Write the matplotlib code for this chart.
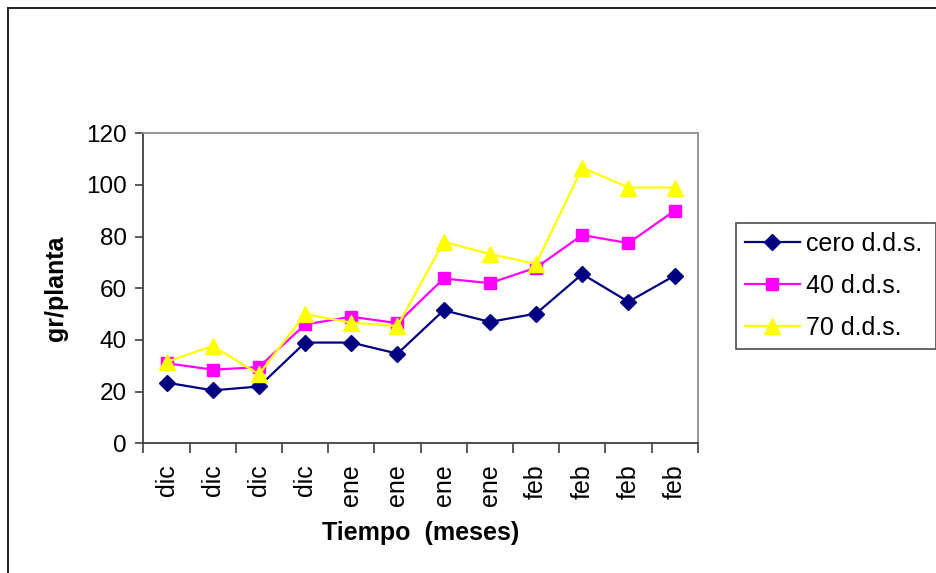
import numpy as np
import matplotlib.pyplot as plt
from matplotlib.lines import Line2D

plt.rcParams['font.family'] = ['Liberation Sans', 'DejaVu Sans']

meses = ['dic', 'dic', 'dic', 'dic', 'ene', 'ene', 'ene', 'ene',
         'feb', 'feb', 'feb', 'feb']
cero_dds = [23.5, 20.5, 22, 39, 39, 34.7, 51.5, 47, 50.2, 65.5, 54.8, 64.9]
dds_40 = [31, 28.5, 29.5, 46, 49, 46.5, 63.8, 62, 68, 80.6, 77.5, 90]
dds_70 = [31.5, 37.7, 26.7, 50, 46.7, 45.4, 78, 73.3, 69.4, 106.7, 99, 99]

fig = plt.figure(figsize=(9.36, 5.73), dpi=100)
ax = fig.add_axes([0.1533, 0.2263, 0.5921, 0.5411])

x = np.arange(len(meses))
ax.plot(x, cero_dds, color='#000080', lw=1.6, marker='D', ms=8,
        label='cero d.d.s.')
ax.plot(x, dds_40, color='#FF00FF', lw=1.6, marker='s', ms=9,
        label='40 d.d.s.')
ax.plot(x, dds_70, color='#FFFF00', lw=1.6, marker='^', ms=11,
        label='70 d.d.s.')

ax.set_xlim(-0.5, 11.5)
ax.set_ylim(0, 120)
ax.set_yticks(range(0, 121, 20))
ax.set_xticks(np.arange(-0.5, 12, 1))
ax.set_xticklabels([])
ax.set_xticks(x, minor=True)
ax.set_xticklabels(meses, minor=True, rotation=90, fontsize=18)
ax.tick_params(axis='x', which='minor', length=0, pad=15)
ax.tick_params(axis='x', which='major', length=7, width=1.2,
               color='#404040', direction='out')
ax.tick_params(axis='y', length=6, width=1.2, color='#404040',
               labelsize=17.5, pad=6)

for s in ['left', 'bottom']:
    ax.spines[s].set_color('#404040')
    ax.spines[s].set_linewidth(1.3)
for s in ['top', 'right']:
    ax.spines[s].set_color('#909090')
    ax.spines[s].set_linewidth(1.3)

ax.set_ylabel('gr/planta', fontsize=18, fontweight='bold', labelpad=13)
ax.set_xlabel('Tiempo  (meses)', fontsize=18, fontweight='bold', labelpad=11)

leg = fig.legend(loc='center left', bbox_to_anchor=(0.7863, 0.3909, 0.2137, 0.22),
                 mode='expand', fontsize=18, frameon=True, fancybox=False,
                 handlelength=2.2, labelspacing=0.73, borderaxespad=0,
                 borderpad=0.35, handletextpad=0.25)
leg.get_frame().set_edgecolor('#202020')
leg.get_frame().set_linewidth(1.2)

# marco exterior del grafico
fig.add_artist(Line2D([8 / 936, 8 / 936], [0, 1 - 8 / 573],
                      transform=fig.transFigure, color='#202020', lw=1.4))
fig.add_artist(Line2D([8 / 936, 1], [1 - 8 / 573, 1 - 8 / 573],
                      transform=fig.transFigure, color='#202020', lw=1.4))

fig.savefig('out.png', dpi=100)
